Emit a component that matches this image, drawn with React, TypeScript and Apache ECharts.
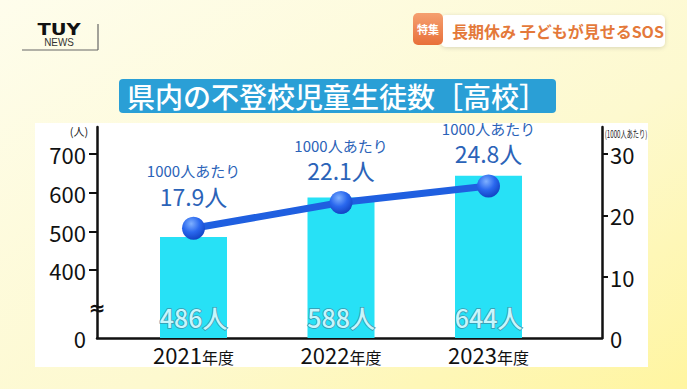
import React, { useEffect, useRef } from "react";
import * as echarts from "echarts";

const categories = ["2021", "2022", "2023"];
const categorySuffix = "年度";
const studentCounts = [486, 588, 644];
const ratePer1000 = [17.9, 22.1, 24.8];
const leftTickLabels = [0, 400, 500, 600, 700];
const rightTickLabels = [0, 10, 20, 30];
const titleText = "県内の不登校児童生徒数［高校］";

// broken left axis: values from 400 up are shifted down so 400 sits just above 0
const BREAK_VALUE = 400;
const BREAK_DISPLAY = 175;
const toDisplay = (v: number) => (v >= BREAK_VALUE ? v - BREAK_VALUE + BREAK_DISPLAY : (v * BREAK_DISPLAY) / BREAK_VALUE);
const fromDisplay = (d: number) => (d >= BREAK_DISPLAY ? d - BREAK_DISPLAY + BREAK_VALUE : (d * BREAK_VALUE) / BREAK_DISPLAY);

const LEFT_MAX = 545;
const RIGHT_MAX = (LEFT_MAX * 30) / toDisplay(700);

export default function App() {
  const ref = useRef<HTMLDivElement>(null);
  useEffect(() => {
    if (!ref.current) return;
    const chart = echarts.init(ref.current, null, { renderer: "svg" });
    const font = "'Noto Sans CJK JP', 'Noto Sans', sans-serif";
    const option: any = {
      animation: false,
      backgroundColor: {
        type: "linear", x: 0, y: 0, x2: 1, y2: 1,
        colorStops: [
          { offset: 0, color: "#fefdec" },
          { offset: 0.6, color: "#fdf9cf" },
          { offset: 1, color: "#fff5a0" },
        ],
      },
      textStyle: { fontFamily: font },
      grid: { left: 97, right: 85, top: 127, bottom: 51, containLabel: false },
      graphic: [
        { type: "rect", z: -10, shape: { x: 35, y: 123, width: 613, height: 244 }, style: { fill: "#ffffff" } },
        { type: "rect", shape: { x: 119, y: 79, width: 437, height: 34, r: 4 }, style: { fill: "#2a9fd6" } },
        {
          type: "text", x: 337, y: 96,
          style: { text: titleText, fill: "#ffffff", font: `500 28px ${font}`, textAlign: "center", textVerticalAlign: "middle" },
        },
        // top right banner
        {
          type: "rect", shape: { x: 441, y: 15, width: 224, height: 32, r: 5 },
          style: { fill: "#ffffff", shadowBlur: 4, shadowColor: "rgba(0,0,0,0.15)", shadowOffsetY: 1 },
        },
        {
          type: "rect", shape: { x: 413, y: 13, width: 30, height: 32, r: 5 },
          style: {
            fill: { type: "linear", x: 0, y: 0, x2: 0, y2: 1, colorStops: [{ offset: 0, color: "#f5a070" }, { offset: 1, color: "#e8703a" }] },
          },
        },
        { type: "text", x: 428, y: 29, style: { text: "特集", fill: "#ffffff", font: `bold 11px ${font}`, textAlign: "center", textVerticalAlign: "middle" } },
        { type: "text", x: 452, y: 31, style: { text: "長期休み 子どもが見せるSOS", fill: "#e4793a", font: `bold 16px ${font}`, textVerticalAlign: "middle" } },
        // logo
        { type: "text", x: 59, y: 30, scaleX: 1.3, style: { text: "TUY", fill: "#111111", font: "900 15px 'DejaVu Sans', sans-serif", textAlign: "center", textVerticalAlign: "middle" } },
        { type: "text", x: 59, y: 42, scaleX: 0.9, style: { text: "NEWS", fill: "#333333", font: "11px 'Liberation Sans', sans-serif", textAlign: "center", textVerticalAlign: "middle" } },
        { type: "line", shape: { x1: 98, y1: 24, x2: 98, y2: 50 }, style: { stroke: "#666666", lineWidth: 1.2 } },
        { type: "line", shape: { x1: 22, y1: 50, x2: 98, y2: 50 }, style: { stroke: "#666666", lineWidth: 1.2 } },
        // axis units
        { type: "text", x: 79, y: 131, style: { text: "(人)", fill: "#222222", font: `11px ${font}`, textAlign: "center", textVerticalAlign: "middle" } },
        { type: "text", x: 626, y: 133, scaleX: 0.62, style: { text: "(1000人あたり)", fill: "#222222", font: `10px ${font}`, textAlign: "center", textVerticalAlign: "middle" } },
        // axis break mark
        { type: "text", x: 97, y: 308, z: 20, style: { text: "≈", fill: "#111111", font: "bold 20px 'DejaVu Sans', sans-serif", textAlign: "center", textVerticalAlign: "middle" } },
      ],
      xAxis: {
        type: "value",
        min: (97 - 193.5) / 147.5,
        max: (97 - 193.5) / 147.5 + 505 / 147.5,
        splitLine: { show: false },
        axisLine: { show: true, onZero: false, lineStyle: { color: "#111111", width: 2.5 } },
        axisTick: { show: false },
        axisLabel: {
          customValues: categories.map((_, i) => i),
          margin: 5,
          formatter: (v: number) => `{y|${categories[Math.round(v)]}}{s|${categorySuffix}}`,
          rich: {
            y: { fontSize: 22, color: "#111111", fontFamily: font, verticalAlign: "bottom" },
            s: { fontSize: 16, color: "#111111", fontFamily: font, verticalAlign: "bottom" },
          },
        },
      },
      yAxis: [
        {
          type: "value", min: 0, max: LEFT_MAX, position: "left",
          splitLine: { show: false },
          axisLine: { show: true, onZero: false, lineStyle: { color: "#111111", width: 2.5 } },
          axisTick: { show: true, customValues: leftTickLabels.filter((v) => v > 0).map(toDisplay), length: 8, lineStyle: { color: "#111111", width: 2 } },
          axisLabel: {
            customValues: leftTickLabels.map(toDisplay),
            margin: 11,
            color: "#111111", fontSize: 22, fontFamily: font,
            formatter: (d: number) => String(Math.round(fromDisplay(d))),
          },
        },
        {
          type: "value", min: 0, max: RIGHT_MAX, position: "right",
          splitLine: { show: false },
          axisLine: { show: true, onZero: false, lineStyle: { color: "#111111", width: 2.5 } },
          axisTick: { show: true, customValues: rightTickLabels.filter((v) => v > 0), length: 6, lineStyle: { color: "#111111", width: 2 } },
          axisLabel: {
            customValues: rightTickLabels,
            margin: 8,
            color: "#111111", fontSize: 22, fontFamily: font,
          },
        },
      ],
      series: [
        {
          type: "bar",
          yAxisIndex: 0,
          barWidth: 67,
          data: studentCounts.map((v, i) => [i, toDisplay(v)]),
          itemStyle: { color: "#27e1f6" },
          label: {
            show: true,
            position: "insideBottom",
            distance: 9,
            formatter: (p: any) => `${studentCounts[p.dataIndex]}人`,
            fontSize: 25,
            fontWeight: 500,
            fontFamily: font,
            color: "#c8f6fc",
            textBorderColor: "#3a98ae",
            textBorderWidth: 1.5,
          },
        },
        {
          type: "line",
          yAxisIndex: 1,
          data: ratePer1000.map((v, i) => [i, v]),
          lineStyle: { color: "#1f5fe0", width: 7 },
          symbol: "circle",
          symbolSize: 23,
          z: 5,
          itemStyle: {
            color: {
              type: "radial", x: 0.4, y: 0.3, r: 0.75,
              colorStops: [
                { offset: 0, color: "#7fb0ff" },
                { offset: 0.5, color: "#2a68ee" },
                { offset: 1, color: "#0f3fbf" },
              ],
            },
          },
          label: {
            show: true,
            position: "top",
            distance: 7,
            formatter: (p: any) => `{a|1000人あたり}\n{b|${ratePer1000[p.dataIndex]}人}`,
            rich: {
              a: { fontSize: 15, color: "#2b63b8", fontFamily: font, lineHeight: 22, align: "center" },
              b: { fontSize: 23, color: "#2b63b8", fontFamily: font, lineHeight: 28, align: "center" },
            },
          },
        },
      ],
    };
    chart.setOption(option);
    return () => chart.dispose();
  }, []);
  return <div ref={ref} style={{ position: "fixed", left: 0, top: 0, width: 687, height: 389 }} />;
}
